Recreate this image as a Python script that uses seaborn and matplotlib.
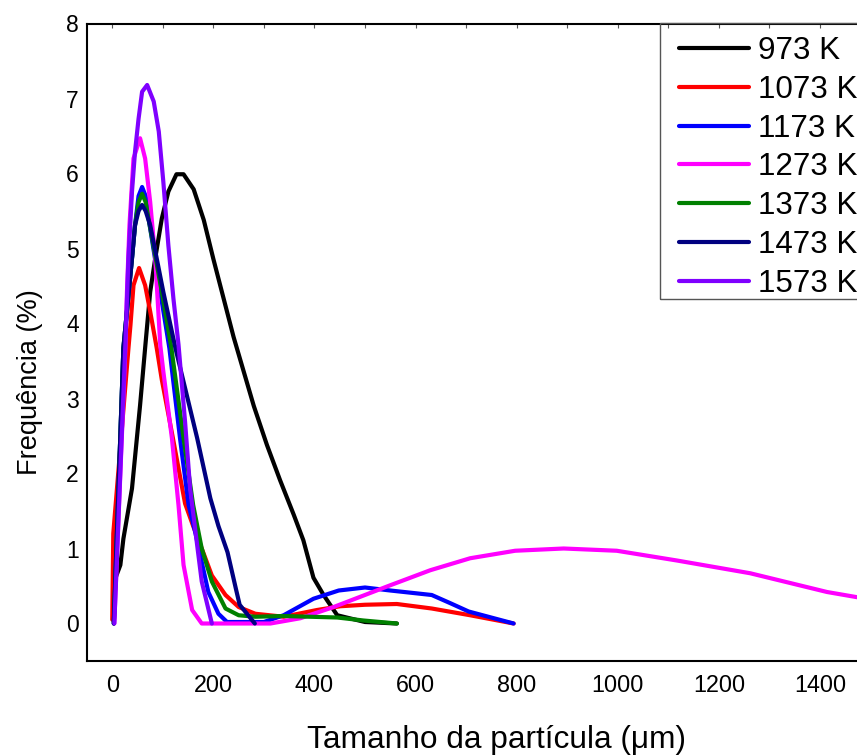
import matplotlib
matplotlib.use("Agg")
import matplotlib.pyplot as plt
from matplotlib.patches import Rectangle
from matplotlib.ticker import MultipleLocator
import pandas as pd
import seaborn as sns

# Particle size distributions at each sintering temperature
temps = ["973 K", "1073 K", "1173 K", "1273 K", "1373 K", "1473 K", "1573 K"]
colors = ["#000000", "#ff0000", "#0000ff", "#ff00ff", "#008000", "#000080", "#7f00ff"]

size_973 = [6, 16, 22, 39, 55, 66, 75, 85, 98, 111, 127, 141, 161, 181, 200, 220,
            240, 260, 280, 306, 332, 359, 378, 398, 418, 445, 500, 563]
freq_973 = [0.60, 0.78, 1.13, 1.80, 2.91, 3.75, 4.42, 4.87, 5.40, 5.76, 5.99, 5.99,
            5.79, 5.38, 4.86, 4.34, 3.82, 3.36, 2.90, 2.38, 1.91, 1.45, 1.11, 0.61,
            0.38, 0.11, 0.02, 0.0]

size_1073 = [0, 2, 32, 36, 42, 53, 65, 75, 88, 98, 120, 144, 160, 177, 197, 224,
             250, 283, 339, 405, 451, 500, 563, 632, 708, 794]
freq_1073 = [0.05, 1.20, 3.67, 3.98, 4.51, 4.74, 4.51, 4.16, 3.67, 3.25, 2.47, 1.60,
             1.30, 1.00, 0.64, 0.38, 0.22, 0.13, 0.09, 0.18, 0.23, 0.25, 0.26, 0.20,
             0.11, 0.0]

size_1173 = [3, 22, 39, 45, 52, 59, 66, 74, 95, 113, 134, 151, 164, 190, 210, 227,
             300, 339, 398, 448, 500, 550, 632, 669, 705, 794]
freq_1173 = [0.0, 3.67, 4.87, 5.31, 5.70, 5.82, 5.70, 5.31, 4.42, 3.67, 2.47, 1.58,
             1.22, 0.42, 0.13, 0.02, 0.02, 0.11, 0.33, 0.44, 0.48, 0.44, 0.38, 0.27,
             0.16, 0.0]

size_1273 = [4, 26, 29, 34, 42, 55, 65, 75, 85, 95, 101, 118, 131, 141, 158, 177,
             313, 372, 438, 550, 629, 708, 797, 893, 998, 1117, 1262, 1414, 1474]
freq_1273 = [0.0, 3.67, 4.42, 5.31, 6.20, 6.47, 6.20, 5.62, 4.87, 3.71, 3.36, 2.47,
             1.58, 0.78, 0.18, 0.0, 0.0, 0.07, 0.22, 0.51, 0.71, 0.87, 0.97, 1.00,
             0.97, 0.84, 0.67, 0.42, 0.35]

size_1373 = [3, 22, 39, 45, 52, 59, 66, 74, 98, 117, 141, 160, 177, 197, 224, 250,
             283, 339, 445, 497, 563]
freq_1373 = [0.0, 3.67, 4.87, 5.31, 5.62, 5.73, 5.62, 5.31, 4.42, 3.67, 2.47, 1.58,
             1.00, 0.56, 0.20, 0.11, 0.09, 0.10, 0.08, 0.04, 0.0]

size_1473 = [3, 22, 39, 45, 52, 59, 66, 75, 101, 125, 168, 194, 210, 228, 245, 252, 282]
freq_1473 = [0.0, 3.67, 4.87, 5.31, 5.50, 5.58, 5.50, 5.31, 4.42, 3.67, 2.47, 1.67,
             1.30, 0.95, 0.45, 0.25, 0.0]

size_1573 = [4, 26, 32, 39, 45, 52, 59, 69, 82, 92, 101, 111, 121, 131, 144, 154,
             168, 177, 197]
freq_1573 = [0.0, 3.75, 4.87, 5.76, 6.29, 6.73, 7.09, 7.18, 6.96, 6.56, 5.89, 5.04,
             4.33, 3.72, 2.69, 1.80, 1.04, 0.56, 0.0]

x_ticks = [0, 200, 400, 600, 800, 1000, 1200, 1400]
y_ticks = [0, 1, 2, 3, 4, 5, 6, 7, 8]

series = [
    (size_973, freq_973), (size_1073, freq_1073), (size_1173, freq_1173),
    (size_1273, freq_1273), (size_1373, freq_1373), (size_1473, freq_1473),
    (size_1573, freq_1573),
]
frames = []
for label, (xs, ys) in zip(temps, series):
    frames.append(pd.DataFrame({"size": xs, "freq": ys, "temp": label}))
df = pd.concat(frames, ignore_index=True)

sns.set_style("white")
plt.rcParams["font.family"] = ["Liberation Sans", "DejaVu Sans"]
plt.rcParams.update({
    "text.color": "black",
    "axes.labelcolor": "black",
    "xtick.labelcolor": "black",
    "ytick.labelcolor": "black",
})

W, H = 857, 755
fig = plt.figure(figsize=(W / 100, H / 100), dpi=100)
ax = fig.add_axes([87 / W, 94 / H, 783.5 / W, 637.5 / H])

sns.lineplot(data=df, x="size", y="freq", hue="temp", hue_order=temps,
             palette=dict(zip(temps, colors)), estimator=None, sort=False,
             linewidth=3.0, ax=ax, legend=True)

ax.set_xlim(-50, 1500)
ax.set_ylim(-0.5, 8)
ax.set_xticks(x_ticks)
ax.xaxis.set_minor_locator(MultipleLocator(100))
ax.set_yticks(y_ticks)

for side in ["left", "bottom", "top", "right"]:
    ax.spines[side].set_linewidth(1.5)
    ax.spines[side].set_color("black")

ax.tick_params(axis="both", which="both", direction="in", length=3, width=0.8,
               color="#555555", labelcolor="black", top=True, right=False)
ax.tick_params(axis="y", labelsize=16.5, pad=6)
ax.tick_params(axis="x", labelsize=16.8, pad=9)

ax.set_xlabel("Tamanho da partícula (\u03bcm)", fontsize=22.8, color="black")
ax.xaxis.set_label_coords(0.5226, -0.100)
ax.set_ylabel("Frequência (%)", fontsize=19.5, color="black")
ax.yaxis.set_label_coords(-0.0562, 0.4369)

handles, labels = ax.get_legend_handles_labels()
ax.get_legend().remove()
leg = fig.legend(handles, labels, loc="upper left",
                 bbox_to_anchor=(679 / W, 1 - 36 / H), bbox_transform=fig.transFigure,
                 frameon=False, fontsize=22.6, handlelength=2.23, handletextpad=0.3,
                 labelspacing=0.28, borderpad=0, borderaxespad=0)
for line in leg.get_lines():
    line.set_linewidth(3.0)
for txt in leg.get_texts():
    txt.set_color("black")

fig.patches.append(Rectangle((660 / W, 1 - 299 / H), 300 / W, 276 / H,
                             transform=fig.transFigure, fill=False,
                             edgecolor="#555555", linewidth=1.0, zorder=5))

fig.savefig("out.png", dpi=100)
